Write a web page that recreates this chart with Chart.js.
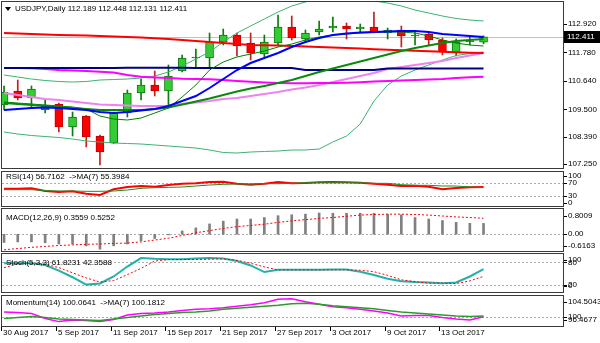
<!DOCTYPE html>
<html lang="en">
<head>
<meta charset="UTF-8">
<title>USDJPY, Daily</title>
<script src="https://cdn.jsdelivr.net/npm/chart.js"></script>
<style>
  html, body { margin: 0; padding: 0; background: #fff; }
  #wrap { position: relative; width: 600px; height: 343px; overflow: hidden; background: #fff; }
  #wrap canvas { position: absolute; left: 0; top: 0; }
</style>
</head>
<body>
<div id="wrap">
  <canvas id="mainPane" width="600" height="343"></canvas>
  <canvas id="rsiPane" width="600" height="343"></canvas>
  <canvas id="macdPane" width="600" height="343"></canvas>
  <canvas id="stochPane" width="600" height="343"></canvas>
  <canvas id="momPane" width="600" height="343"></canvas>
</div>
<script>
// trading days shown on the chart
const days = ['2017-08-30','2017-08-31','2017-09-01','2017-09-04','2017-09-05','2017-09-06','2017-09-07','2017-09-08',
  '2017-09-11','2017-09-12','2017-09-13','2017-09-14','2017-09-15','2017-09-18','2017-09-19','2017-09-20',
  '2017-09-21','2017-09-22','2017-09-25','2017-09-26','2017-09-27','2017-09-28','2017-09-29','2017-10-02',
  '2017-10-03','2017-10-04','2017-10-05','2017-10-06','2017-10-09','2017-10-10','2017-10-11','2017-10-12',
  '2017-10-13','2017-10-16','2017-10-17','2017-10-18'];

// candles
const openP  = [109.68,110.24,109.96,109.48,109.72,108.80,109.24,108.44,108.16,109.36,110.16,110.48,110.24,111.04,111.56,111.56,112.20,112.48,112.16,111.72,112.16,112.80,112.32,112.60,112.76,112.84,112.72,112.80,112.56,112.68,112.44,112.52,112.28,111.76,112.20,112.189];
const highP  = [110.44,110.68,110.44,109.92,109.76,109.40,109.26,108.48,109.40,110.28,110.72,111.04,111.28,111.68,111.92,112.56,112.72,112.56,112.56,112.48,113.28,113.24,112.68,113.04,113.20,112.96,112.92,113.40,112.76,112.84,112.60,112.56,112.36,112.32,112.40,112.448];
const lowP   = [109.48,109.88,109.60,109.36,108.60,108.44,108.00,107.28,108.14,109.20,109.88,110.04,109.56,111.00,111.16,111.16,112.08,111.64,111.48,111.60,112.08,112.28,112.20,112.48,112.60,112.32,112.60,112.56,112.32,112.00,112.08,112.08,111.68,111.64,112.08,112.131];
const closeP = [110.20,109.96,110.32,109.68,108.80,109.20,108.40,107.80,109.36,110.16,110.48,110.24,110.84,111.56,111.58,112.20,112.48,112.04,111.76,112.20,112.80,112.36,112.56,112.72,112.84,112.72,112.80,112.60,112.68,112.44,112.46,112.28,111.80,112.20,112.24,112.411];

// moving averages and bands on the price pane
const maRed    = [112.56,112.54,112.52,112.50,112.48,112.47,112.46,112.44,112.42,112.40,112.38,112.35,112.32,112.28,112.24,112.20,112.16,112.12,112.08,112.07,112.06,112.04,112.02,112.00,111.98,111.96,111.94,111.91,111.89,111.87,111.85,111.83,111.81,111.79,111.77,111.76];
const maNavy   = [111.16,111.16,111.16,111.16,111.16,111.16,111.16,111.16,111.16,111.17,111.17,111.17,111.17,111.17,111.16,111.16,111.16,111.16,111.16,111.16,111.16,111.16,111.08,111.08,111.08,111.08,111.08,111.08,111.14,111.14,111.14,111.14,111.14,111.14,111.14,111.14];
const maMagenta= [111.16,111.16,111.15,111.12,111.08,111.06,111.04,111.01,110.98,110.88,110.81,110.78,110.76,110.73,110.72,110.71,110.68,110.64,110.61,110.58,110.56,110.55,110.55,110.56,110.56,110.57,110.59,110.62,110.64,110.66,110.68,110.70,110.72,110.76,110.79,110.81];
const maViolet = [110.16,110.08,110.00,109.92,109.88,109.82,109.76,109.70,109.68,109.66,109.64,109.64,109.64,109.72,109.78,109.84,109.92,109.96,110.04,110.12,110.20,110.30,110.38,110.48,110.60,110.72,110.84,110.96,111.12,111.20,111.28,111.36,111.44,111.56,111.66,111.76];
const maBlue   = [109.48,109.52,109.56,109.58,109.56,109.52,109.48,109.40,109.36,109.40,109.46,109.52,109.64,109.84,110.04,110.36,110.72,111.08,111.36,111.56,111.76,112.00,112.20,112.36,112.48,112.54,112.58,112.60,112.62,112.64,112.64,112.60,112.52,112.48,112.44,112.40];
const maGreen  = [109.76,109.72,109.68,109.64,109.60,109.56,109.52,109.48,109.48,109.48,109.48,109.52,109.58,109.70,109.82,109.94,110.08,110.22,110.34,110.44,110.56,110.68,110.84,111.00,111.14,111.28,111.42,111.56,111.70,111.84,111.96,112.06,112.16,112.24,112.28,112.32];
const maThin   = [109.80,109.76,109.72,109.68,109.64,109.60,109.52,109.24,109.12,109.08,109.16,109.36,109.56,110.00,110.48,111.08,111.40,111.60,111.72,111.84,112.00,112.12,112.28,112.40,112.48,112.52,112.56,112.58,112.60,112.60,112.56,112.44,112.28,112.16,112.08,112.04];
const bandUp   = [110.88,110.80,110.72,110.66,110.62,110.60,110.62,110.68,110.70,110.72,110.76,110.84,111.00,111.24,111.52,111.80,112.20,112.56,112.84,113.12,113.40,113.64,113.80,113.92,113.96,113.96,113.92,113.84,113.76,113.64,113.48,113.36,113.24,113.14,113.08,113.04];
const bandLow  = [108.60,108.52,108.46,108.42,108.38,108.32,108.24,108.20,108.16,108.14,108.12,108.08,108.04,108.00,107.96,107.88,107.78,107.76,107.80,107.82,107.84,107.88,107.88,107.92,108.20,108.44,108.92,109.84,110.48,110.84,111.08,111.28,111.48,111.66,111.74,111.80];
const priceTicks = [112.920, 111.780, 110.640, 109.500, 108.390, 107.250];

// RSI(14) and its MA(7)
const rsi   = [52,52,53,45,42,44,37,33,50,57,60,58,63,67,68,72,73,67,64,67,72,68,69,71,72,71,70,67,64,60,61,58,50,54,56,56.7162];
const rsiMa = [49,49,49,46,45,45,44,44,45,48,53,55,56,57,60,63,65,66,66,67,67,68,70,70,70,70,70,68,68,64,62,62,60,60,57,55.3984];
const rsiTicks = [100, 70, 30, 0];

// MACD(12,26,9)
const macd   = [-0.27,-0.25,-0.25,-0.28,-0.32,-0.32,-0.38,-0.49,-0.38,-0.32,-0.21,-0.14,-0.02,0.11,0.21,0.34,0.43,0.50,0.50,0.55,0.61,0.64,0.66,0.70,0.69,0.69,0.69,0.69,0.66,0.64,0.55,0.50,0.45,0.39,0.36,0.3559];
const signal = [-0.51,-0.47,-0.43,-0.40,-0.37,-0.35,-0.33,-0.32,-0.30,-0.29,-0.25,-0.19,-0.13,-0.04,0.05,0.12,0.19,0.25,0.29,0.33,0.39,0.44,0.48,0.52,0.55,0.59,0.63,0.65,0.66,0.66,0.65,0.63,0.60,0.57,0.55,0.5252];
const macdTicks = [0.8009, 0, -0.6163];

// Stochastic(5,3,3)
const stochK = [78,78,78,73,58,40,20,23,42,69,92,90,89,89,91,92,91,84,72,54,60,60,60,60,61,61,55,46,36,29,27,26,24,26,42,61.8231];
const stochD = [66,76,78,76,66,52,38,27,31,47,64,84,88,88,88,89,90,86,78,68,60,60,60,60,60,60,59,55,45,33,28,24,24,23,30,42.3588];
const stochTicks = [100, 80, 20, 0];

// Momentum(14) and its MA(7)
const mom   = [101.0,100.9,100.7,99.7,99.1,99.4,99.3,99.1,99.5,100.4,100.7,100.8,101.0,101.3,101.5,101.6,101.8,102.1,102.4,102.8,103.5,103.6,103.0,102.5,102.0,101.8,101.5,101.2,100.8,100.2,100.3,100.3,99.9,99.6,99.4,100.0641];
const momMa = [99.7,99.9,100.1,99.9,99.6,99.5,99.4,99.3,99.6,99.9,100.2,100.5,100.7,100.9,101.0,101.2,101.5,101.7,101.9,102.1,102.3,102.6,102.7,102.5,102.2,102.0,101.8,101.6,101.3,101.0,100.8,100.6,100.4,100.2,100.1,100.1812];
const momTicks = [104.5043, 100, 96.4677];

const months = ['Jan','Feb','Mar','Apr','May','Jun','Jul','Aug','Sep','Oct','Nov','Dec'];
const FONT = '8px "Liberation Sans", Arial, sans-serif';
const XMIN = -0.15, XMAX = 40.8;   // leaves the empty shift area on the right

const pts = arr => arr.map((v, i) => ({ x: i, y: v }));

function dayLabel(s) {
  const p = s.split('-');
  return parseInt(p[2], 10) + ' ' + months[parseInt(p[1], 10) - 1] + ' ' + p[0];
}

// frame, level lines, right scale and caption for one pane
function paneDecor(o) {
  return {
    id: 'paneDecor',
    beforeDatasetsDraw(chart) {
      const ctx = chart.ctx, a = chart.chartArea, y = chart.scales.y;
      ctx.save();
      ctx.lineWidth = 1;
      ctx.strokeStyle = '#a9a9a9';
      ctx.setLineDash([2, 2]);
      (o.levels || []).forEach(function (v) {
        const py = Math.round(y.getPixelForValue(v)) + 0.5;
        ctx.beginPath(); ctx.moveTo(a.left, py); ctx.lineTo(a.right, py); ctx.stroke();
      });
      if (o.priceLine != null) {
        ctx.setLineDash([]);
        ctx.strokeStyle = '#c0c0c0';
        const py = Math.round(y.getPixelForValue(o.priceLine)) + 0.5;
        ctx.beginPath(); ctx.moveTo(a.left, py); ctx.lineTo(a.right, py); ctx.stroke();
      }
      ctx.restore();
    },
    afterDraw(chart) {
      const ctx = chart.ctx, a = chart.chartArea, y = chart.scales.y;
      ctx.save();
      ctx.strokeStyle = '#3a3a3a';
      ctx.lineWidth = 1;
      ctx.strokeRect(a.left - 0.5, a.top - 0.5, a.right - a.left + 1, a.bottom - a.top + 1);

      ctx.font = FONT;
      ctx.textBaseline = 'middle';
      ctx.fillStyle = '#000';
      o.ticks.forEach(function (v) {
        let py = y.getPixelForValue(v);
        py = Math.min(Math.max(py, a.top + o.pad[0]), a.bottom - o.pad[1]);
        ctx.fillRect(a.right + 1, Math.round(py), 3, 1);
        ctx.fillText(o.fmt(v), a.right + 5, py);
      });
      ctx.fillText(o.title, o.titleX, o.titleY);
      if (o.extra) o.extra(chart);
      ctx.restore();
    }
  };
}

function makePane(id, top, bottom, type, yMin, yMax, datasets, decor) {
  return new Chart(document.getElementById(id), {
    type: type,
    data: { datasets: datasets },
    options: {
      responsive: false,
      animation: false,
      events: [],
      layout: { padding: { left: 2, right: 37, top: top, bottom: 343 - bottom } },
      scales: {
        x: { type: 'linear', display: false, offset: false, min: XMIN, max: XMAX },
        y: { type: 'linear', display: false, min: yMin, max: yMax }
      },
      plugins: { legend: { display: false }, tooltip: { enabled: false } }
    },
    plugins: [paneDecor(decor)]
  });
}

function line(data, color, width, order, dash) {
  return {
    type: 'line', data: pts(data), borderColor: color, borderWidth: width,
    pointRadius: 0, tension: 0, fill: false, order: order, borderDash: dash || []
  };
}

const last = closeP.length - 1;
const up = closeP.map((c, i) => c >= openP[i]);
const doji = closeP.map((c, i) => Math.abs(c - openP[i]) < 0.05);

// price pane
makePane('mainPane', 2, 168, 'bar', 107.16, 113.80, [
  {
    data: highP.map((h, i) => ({ x: i, y: [lowP[i], h] })),
    backgroundColor: up.map(u => u ? '#0d7a0d' : '#c02020'),
    barThickness: 1, grouped: false, borderWidth: 0, order: 21
  },
  {
    data: openP.map((o, i) => ({ x: i, y: [o, closeP[i]] })),
    backgroundColor: up.map((u, i) => doji[i] ? '#0d7a0d' : (u ? '#33cc33' : '#ff0000')),
    borderColor: up.map(u => u ? '#0d7a0d' : '#c00000'),
    borderWidth: 1, borderSkipped: false, minBarLength: 1,
    barThickness: 8, grouped: false, order: 20
  },
  line(bandUp, '#3cb371', 1, 9),
  line(bandLow, '#3cb371', 1, 9),
  line(maViolet, '#ee82ee', 2, 8),
  line(maMagenta, '#ff00ff', 2, 7),
  line(maNavy, '#000080', 2, 6),
  line(maRed, '#ff0000', 2, 5),
  line(maThin, '#008000', 1, 4),
  line(maGreen, '#0a8a0a', 2, 3),
  line(maBlue, '#0000ff', 2, 2)
], {
  ticks: priceTicks, fmt: v => v.toFixed(3), pad: [4, 4],
  priceLine: closeP[last],
  title: 'USDJPY,Daily ' + [openP[last], highP[last], lowP[last], closeP[last]].map(v => v.toFixed(3)).join(' '),
  titleX: 15, titleY: 9,
  extra: function (chart) {
    const ctx = chart.ctx, a = chart.chartArea;
    // menu arrow before the symbol caption
    ctx.beginPath(); ctx.moveTo(5, 7); ctx.lineTo(11, 7); ctx.lineTo(8, 11); ctx.closePath(); ctx.fill();
    // current bid marker
    const py = chart.scales.y.getPixelForValue(closeP[last]);
    ctx.fillRect(a.right + 1, Math.round(py) - 6, 36, 12);
    ctx.fillStyle = '#fff';
    ctx.fillText(closeP[last].toFixed(3), a.right + 4, py);
  }
});

makePane('rsiPane', 172, 206, 'line', 0, 102, [
  line(rsi, '#ff0000', 2, 2),
  line(rsiMa, '#228b22', 1, 1)
], {
  ticks: rsiTicks, fmt: v => String(v), pad: [3.5, 3.5], levels: [70, 30],
  title: 'RSI(14) ' + rsi[last].toFixed(4) + '  ->MA(7) ' + rsiMa[last].toFixed(4),
  titleX: 6, titleY: 177
});

makePane('macdPane', 209, 251, 'bar', -0.55, 0.83, [
  { data: pts(macd), backgroundColor: '#808080', barThickness: 2, grouped: false, order: 2 },
  line(signal, '#ff0000', 1, 1, [2, 2])
], {
  ticks: macdTicks, fmt: v => v === 0 ? '0.00' : v.toFixed(4), pad: [7, 5], levels: [0],
  title: 'MACD(12,26,9) ' + macd[last].toFixed(4) + ' ' + signal[last].toFixed(4),
  titleX: 6, titleY: 218
});

makePane('stochPane', 254, 292, 'line', 0, 103, [
  line(stochK, '#20b2aa', 2, 2),
  line(stochD, '#ff0000', 1, 1, [2, 2])
], {
  ticks: stochTicks, fmt: v => String(v), pad: [6, 6], levels: [80, 20],
  title: 'Stoch(5,3,3) ' + stochK[last].toFixed(4) + ' ' + stochD[last].toFixed(4),
  titleX: 6, titleY: 263
});

makePane('momPane', 296, 326, 'line', 98.24, 104.12, [
  line(mom, '#ff00ff', 1.5, 2),
  line(momMa, '#2e9a2e', 1.5, 1)
], {
  ticks: momTicks, fmt: v => v === 100 ? '100' : v.toFixed(4), pad: [5.5, 6], levels: [100],
  title: 'Momentum(14) ' + mom[last].toFixed(4) + '  ->MA(7) ' + momMa[last].toFixed(4),
  titleX: 6, titleY: 303,
  extra: function (chart) {
    // date axis under the last pane, every fourth bar
    const ctx = chart.ctx, xs = chart.scales.x;
    for (let i = 0; i < days.length - 3; i += 4) {
      const px = Math.round(xs.getPixelForValue(i));
      ctx.fillRect(px - 3, 327, 1, 4);
      ctx.fillText(dayLabel(days[i]), px - 1, 333);
    }
  }
});
</script>
</body>
</html>
